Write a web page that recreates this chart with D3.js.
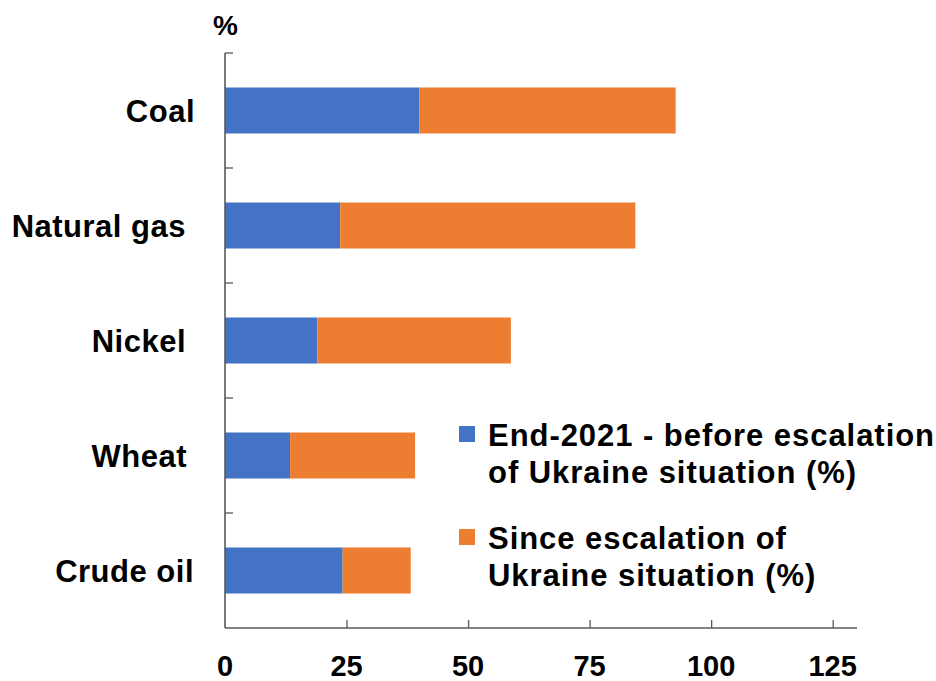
<!DOCTYPE html>
<html>
<head>
<meta charset="utf-8">
<script src="https://cdn.jsdelivr.net/npm/d3@7"></script>
<style>
  html, body { margin: 0; padding: 0; background: #fff; }
  svg text { font-family: "Liberation Sans", Arial, sans-serif; font-weight: bold; fill: #000; }
</style>
</head>
<body>
<svg id="chart" width="936" height="681"></svg>
<script>
const categories = ["Coal", "Natural gas", "Nickel", "Wheat", "Crude oil"];
const seriesNames = ["End-2021 - before escalation of Ukraine situation (%)", "Since escalation of Ukraine situation (%)"];
const before2021 = [40.0, 23.7, 19.0, 13.4, 24.2];
const sinceEscalation = [52.7, 60.7, 39.8, 25.7, 14.0];
const xTicks = [0, 25, 50, 75, 100, 125];
const colors = ["#4472C4", "#ED7D31"];

const svg = d3.select("#chart");
const plotLeft = 225, plotRight = 857, plotTop = 53, plotBottom = 628;

const x = d3.scaleLinear().domain([0, 130]).range([plotLeft, plotRight]);
const y = d3.scaleBand().domain(categories).range([plotTop, plotBottom]).paddingInner(0.6).paddingOuter(0.3);

const rows = categories.map((c, i) => ({ cat: c, a: before2021[i], b: sinceEscalation[i] }));
const stacked = d3.stack().keys(["a", "b"])(rows);

svg.append("g").selectAll("g").data(stacked).join("g")
  .attr("fill", (d, i) => colors[i])
  .selectAll("rect").data(d => d).join("rect")
  .attr("x", d => x(d[0]))
  .attr("width", d => x(d[1]) - x(d[0]))
  .attr("y", d => y(d.data.cat))
  .attr("height", y.bandwidth());

const axisColor = "#595959";
// x axis
const xAxis = svg.append("g").attr("transform", `translate(0,${plotBottom})`)
  .call(d3.axisTop(x).tickValues(xTicks.filter(v => v > 0)).tickSize(8).tickFormat(""));
xAxis.select(".domain").attr("d", `M${plotLeft},0H${plotRight}`).attr("stroke", axisColor).attr("stroke-width", 1.6);
xAxis.selectAll(".tick line").attr("stroke", axisColor).attr("stroke-width", 1.3);

svg.append("g").selectAll("text").data(xTicks).join("text")
  .attr("x", d => x(d)).attr("y", 676)
  .attr("text-anchor", "middle")
  .style("font-size", "29px")
  .text(d => d);

// y axis with ticks at band boundaries
const bounds = categories.map(c => y(c) - y.step() * y.paddingInner() / 2);
svg.append("line").attr("x1", plotLeft).attr("x2", plotLeft).attr("y1", plotTop).attr("y2", plotBottom)
  .attr("stroke", axisColor).attr("stroke-width", 1.6);
svg.append("g").selectAll("line").data(bounds).join("line")
  .attr("x1", plotLeft).attr("x2", plotLeft + 8)
  .attr("y1", d => d).attr("y2", d => d)
  .attr("stroke", axisColor).attr("stroke-width", 1.3);

// category labels
const labelPad = { "Coal": 0, "Natural gas": 9, "Nickel": 9, "Wheat": 8, "Crude oil": 1 };
svg.append("g").selectAll("text").data(categories).join("text")
  .attr("x", d => 195 - labelPad[d])
  .attr("y", d => y(d) + y.bandwidth() / 2 + 11)
  .attr("text-anchor", "end")
  .style("font-size", "31px")
  .style("letter-spacing", "0.5px")
  .text(d => d);

// % unit label
svg.append("text").attr("x", 213).attr("y", 35).style("font-size", "28px").text("%");

// legend
const legendLines = [["End-2021 - before escalation", "of Ukraine situation (%)"], ["Since escalation of", "Ukraine situation (%)"]];
const legendTop = [426, 529];
const lg = svg.append("g");
seriesNames.forEach((s, i) => {
  lg.append("rect").attr("x", 459).attr("y", legendTop[i]).attr("width", 16).attr("height", 16).attr("fill", colors[i]);
  const t = lg.append("text").attr("x", 488).attr("y", legendTop[i] + 20)
    .style("font-size", "31px").style("letter-spacing", "0.95px");
  legendLines[i].forEach((ln, j) => {
    t.append("tspan").attr("x", 488).attr("dy", j === 0 ? 0 : 37).text(ln);
  });
});
</script>
</body>
</html>
